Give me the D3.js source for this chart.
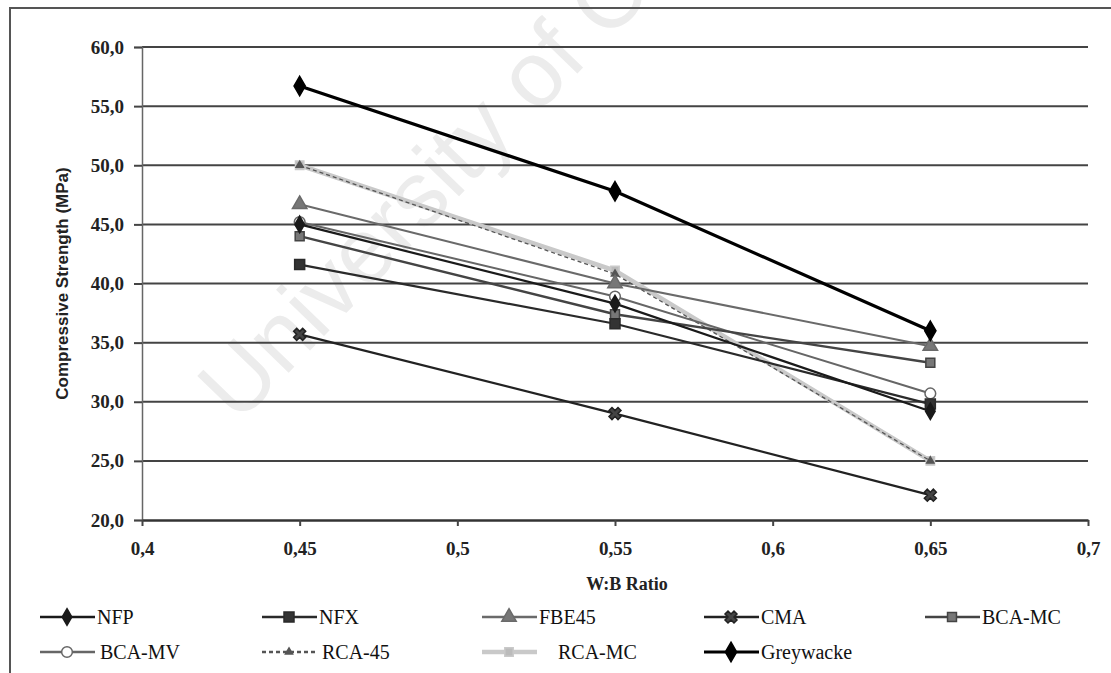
<!DOCTYPE html>
<html>
<head>
<meta charset="utf-8">
<script src="https://cdn.jsdelivr.net/npm/d3@7"></script>
<style>
  body { margin: 0; background: #fff; }
  svg { display: block; }
</style>
</head>
<body>
<svg id="chart" width="1111" height="673"></svg>
<script>
// values
const ratios = [0.45, 0.55, 0.65];
const nfp = [45.0, 38.3, 29.2];
const nfx = [41.6, 36.6, 29.8];
const fbe45 = [46.7, 40.0, 34.7];
const cma = [35.7, 29.0, 22.1];
const bcaMc = [44.0, 37.4, 33.3];
const bcaMv = [45.2, 38.9, 30.7];
const rca45 = [50.0, 40.8, 25.0];
const rcaMc = [50.0, 41.1, 25.0];
const greywacke = [56.7, 47.8, 36.0];

const xTicks = [0.4, 0.45, 0.5, 0.55, 0.6, 0.65, 0.7];
const yTicks = [20, 25, 30, 35, 40, 45, 50, 55, 60];

const W = 1111, H = 673;
const pLeft = 142, pRight = 1088, pTop = 47, pBottom = 520;

const svg = d3.select("#chart");

const locale = d3.formatLocale({decimal: ",", thousands: ".", grouping: [3], currency: ["", ""]});
const fmtX = locale.format(".2~f");
const fmtY = locale.format(".1f");

let xScale = d3.scaleLinear().domain([0.4, 0.7]).range([pLeft, pRight]);
let yScale = d3.scaleLinear().domain([20, 60]).range([pBottom, pTop]);

// watermark
svg.append("text")
    .attr("transform", "translate(238,425) rotate(-46)")
    .attr("font-family", "Liberation Sans, Arial, sans-serif")
    .attr("font-size", 92)
    .attr("fill", "#ececec")
    .text("University of Cape Town");

// outer frame (left + top only, like the scan)
svg.append("path")
    .attr("d", `M10,${H} L10,8 L${W},8`)
    .attr("fill", "none")
    .attr("stroke", "#555")
    .attr("stroke-width", 2);

// grid lines
svg.append("g")
    .classed("grid", true)
    .selectAll("line")
    .data(yTicks.filter(d => d > 20))
    .enter()
    .append("line")
    .attr("x1", pLeft)
    .attr("x2", pRight)
    .attr("y1", d => yScale(d))
    .attr("y2", d => yScale(d))
    .attr("stroke", "#444")
    .attr("stroke-width", 2);

// y axis
let axisY = d3.axisLeft(yScale).tickValues(yTicks).tickFormat(fmtY).tickSize(8).tickPadding(10);
let gy = svg.append("g")
    .classed("yAxis", true)
    .attr("transform", `translate(${pLeft},0)`)
    .call(axisY);
gy.select(".domain").attr("stroke", "#666").attr("stroke-width", 1.5);
gy.selectAll(".tick line").attr("stroke", "#444").attr("stroke-width", 2);
gy.selectAll("text")
    .attr("font-family", "Liberation Serif, serif")
    .attr("font-weight", "bold")
    .attr("font-size", 19)
    .attr("fill", "#222");

// x axis
let axisX = d3.axisBottom(xScale).tickValues(xTicks).tickFormat(fmtX).tickSize(6).tickSizeOuter(0).tickPadding(16);
let gx = svg.append("g")
    .classed("xAxis", true)
    .attr("transform", `translate(0,${pBottom})`)
    .call(axisX);
gx.select(".domain").attr("stroke", "#333").attr("stroke-width", 2.5);
gx.selectAll(".tick line").attr("stroke", "#444").attr("stroke-width", 2);
gx.selectAll("text")
    .attr("font-family", "Liberation Serif, serif")
    .attr("font-weight", "bold")
    .attr("font-size", 19)
    .attr("fill", "#222");

// axis titles
svg.append("text")
    .attr("x", 627)
    .attr("y", 590)
    .attr("text-anchor", "middle")
    .attr("font-family", "Liberation Serif, serif")
    .attr("font-weight", "bold")
    .attr("font-size", 18)
    .attr("fill", "#222")
    .text("W:B Ratio");

svg.append("text")
    .attr("transform", `translate(68,${(pTop + pBottom) / 2}) rotate(-90)`)
    .attr("text-anchor", "middle")
    .attr("font-family", "Liberation Sans, Arial, sans-serif")
    .attr("font-weight", "bold")
    .attr("font-size", 17)
    .attr("fill", "#222")
    .text("Compressive Strength (MPa)");

// series table
const series = [
    {name: "RCA-MC", values: rcaMc, color: "#c9c9c9", width: 4.5, dash: null, symbol: d3.symbolSquare, size: 70, rot: 0, fill: "#bbb"},
    {name: "RCA-45", values: rca45, color: "#555", width: 1.3, dash: "4,3", symbol: d3.symbolTriangle, size: 22, rot: 0, fill: "#555"},
    {name: "BCA-MV", values: bcaMv, color: "#666", width: 2, dash: null, symbol: d3.symbolCircle, size: 90, rot: 0, fill: "#fff"},
    {name: "BCA-MC", values: bcaMc, color: "#444", width: 2.4, dash: null, symbol: d3.symbolSquare, size: 80, rot: 0, fill: "#777"},
    {name: "FBE45", values: fbe45, color: "#6a6a6a", width: 2, dash: null, symbol: d3.symbolTriangle, size: 90, rot: 0, fill: "#777"},
    {name: "NFX", values: nfx, color: "#2a2a2a", width: 2.2, dash: null, symbol: d3.symbolSquare, size: 100, rot: 0, fill: "#333"},
    {name: "NFP", values: nfp, color: "#1a1a1a", width: 2.2, dash: null, symbol: d3.symbolDiamond, size: 80, rot: 0, fill: "#1a1a1a"},
    {name: "CMA", values: cma, color: "#222", width: 2.2, dash: null, symbol: d3.symbolCross, size: 90, rot: 45, fill: "#444"},
    {name: "Greywacke", values: greywacke, color: "#000", width: 3.2, dash: null, symbol: d3.symbolDiamond, size: 110, rot: 0, fill: "#000"}
];

const line = d3.line()
    .x(d => xScale(d.x))
    .y(d => yScale(d.y));

let gLines = svg.append("g").classed("g_lines", true);

series.forEach(s => {
    let pts = ratios.map((r, i) => ({x: r, y: s.values[i]}));
    let g = gLines.append("g");
    g.append("path")
        .datum(pts)
        .attr("d", line)
        .attr("fill", "none")
        .attr("stroke", s.color)
        .attr("stroke-width", s.width)
        .attr("stroke-dasharray", s.dash);
    g.selectAll("path.dot")
        .data(pts)
        .enter()
        .append("path")
        .classed("dot", true)
        .attr("d", d3.symbol().type(s.symbol).size(s.size))
        .attr("transform", d => `translate(${xScale(d.x)},${yScale(d.y)}) rotate(${s.rot})`)
        .attr("fill", s.fill)
        .attr("stroke", s.color)
        .attr("stroke-width", 1.5);
});

// legend
const legendOrder = ["NFP", "NFX", "FBE45", "CMA", "BCA-MC", "BCA-MV", "RCA-45", "RCA-MC", "Greywacke"];
const colX = [40, 262, 482, 704, 925];
const rowY = [617, 652];

let gLegend = svg.append("g").classed("legend", true);
legendOrder.forEach((name, i) => {
    let s = series.find(d => d.name === name);
    let x0 = colX[i % 5];
    let y0 = rowY[Math.floor(i / 5)];
    let item = gLegend.append("g").attr("transform", `translate(${x0},${y0})`);
    item.append("line")
        .attr("x1", 0).attr("x2", 55)
        .attr("stroke", s.color)
        .attr("stroke-width", Math.max(s.width, 2.5))
        .attr("stroke-dasharray", s.dash);
    item.append("path")
        .attr("d", d3.symbol().type(s.symbol).size(s.size))
        .attr("transform", `translate(27,0) rotate(${s.rot})`)
        .attr("fill", s.fill)
        .attr("stroke", s.color)
        .attr("stroke-width", 1.5);
    item.append("text")
        .attr("x", name === "RCA-MC" ? 76 : (name === "BCA-MV" || name === "RCA-45" ? 60 : 57))
        .attr("y", 0)
        .attr("dy", "0.35em")
        .attr("font-family", "Liberation Serif, serif")
        .attr("font-size", 20)
        .attr("fill", "#111")
        .text(name);
});
</script>
</body>
</html>
